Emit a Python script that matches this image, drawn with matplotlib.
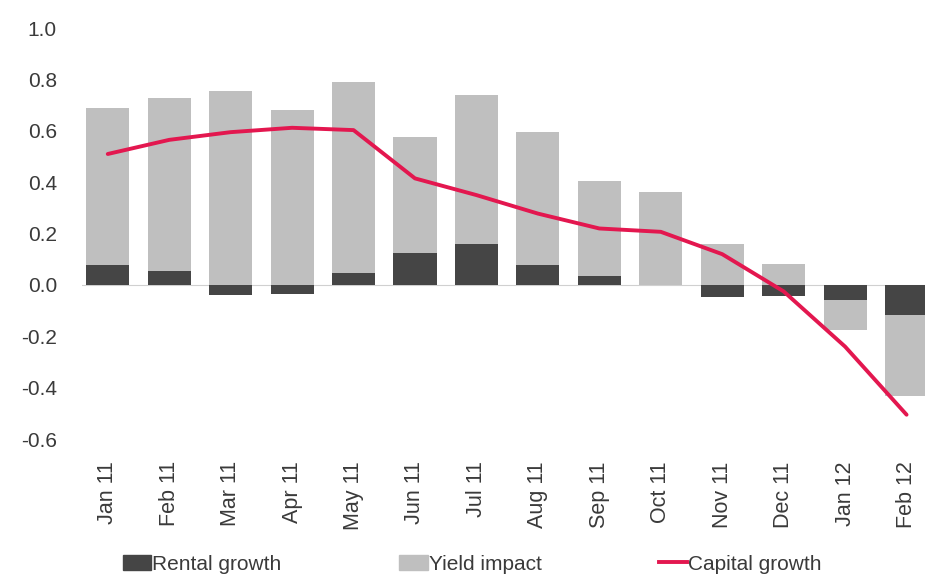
import matplotlib
matplotlib.use("Agg")
import matplotlib.pyplot as plt
import numpy as np
from matplotlib.patches import Patch
from matplotlib.lines import Line2D

# --- Datos ---
months = ['Jan 11', 'Feb 11', 'Mar 11', 'Apr 11', 'May 11', 'Jun 11', 'Jul 11',
          'Aug 11', 'Sep 11', 'Oct 11', 'Nov 11', 'Dec 11', 'Jan 12', 'Feb 12']
rental_growth = [0.078, 0.055, -0.040, -0.035, 0.047, 0.125, 0.160,
                 0.078, 0.035, 0.000, -0.047, -0.043, -0.060, -0.117]
yield_impact = [0.612, 0.672, 0.757, 0.680, 0.743, 0.453, 0.578,
                0.516, 0.371, 0.363, 0.160, 0.080, -0.116, -0.317]
capital_growth = [0.51, 0.565, 0.595, 0.612, 0.603, 0.415, 0.35,
                  0.278, 0.22, 0.207, 0.12, -0.025, -0.24, -0.505]

plt.rcParams['font.family'] = ['Liberation Sans', 'DejaVu Sans']

dark = '#454545'
light = '#bfbfbf'
red = '#e3174f'
text_col = '#3a3a3a'

x = np.arange(len(months))
rental = np.array(rental_growth)
yld = np.array(yield_impact)
# yield se apila sobre rental solo si tienen el mismo signo
yield_bottom = np.where(np.sign(rental) == np.sign(yld), rental, 0.0)

fig = plt.figure(figsize=(9.25, 5.74), dpi=100)
ax = fig.add_axes([0.0886, 0.235, 0.9114, 0.716])

ax.bar(x, rental, width=0.7, color=dark, zorder=2)
ax.bar(x, yld, bottom=yield_bottom, width=0.7, color=light, zorder=2)
ax.axhline(0, color='#d0d0d0', lw=0.8, zorder=1)
ax.plot(x, capital_growth, color=red, lw=2.8, zorder=3, solid_capstyle='round')

ax.set_xlim(-0.42, 13.3)
ax.set_ylim(-0.6, 1.0)
ax.set_yticks(np.arange(-0.6, 1.01, 0.2))
ax.set_yticklabels([f'{v:.1f}' for v in np.arange(-0.6, 1.01, 0.2)])
ax.set_xticks(x)
ax.set_xticklabels(months, rotation=90)
ax.tick_params(axis='both', length=0, colors=text_col)
ax.tick_params(axis='x', pad=16, labelsize=15.5)
ax.tick_params(axis='y', pad=18, labelsize=15)
for s in ax.spines.values():
    s.set_visible(False)

handles = [Patch(color=dark), Patch(color=light),
           Line2D([0], [0], color=red, lw=2.8)]
fig.legend(handles, ['Rental growth', 'Yield impact', 'Capital growth'],
           loc='center left', bbox_to_anchor=(0.122, 0.017), ncol=3,
           frameon=False, fontsize=15, borderpad=0, handlelength=1.35,
           handletextpad=0.05, columnspacing=5.65, labelcolor=text_col)

fig.savefig('out.png', dpi=100)
